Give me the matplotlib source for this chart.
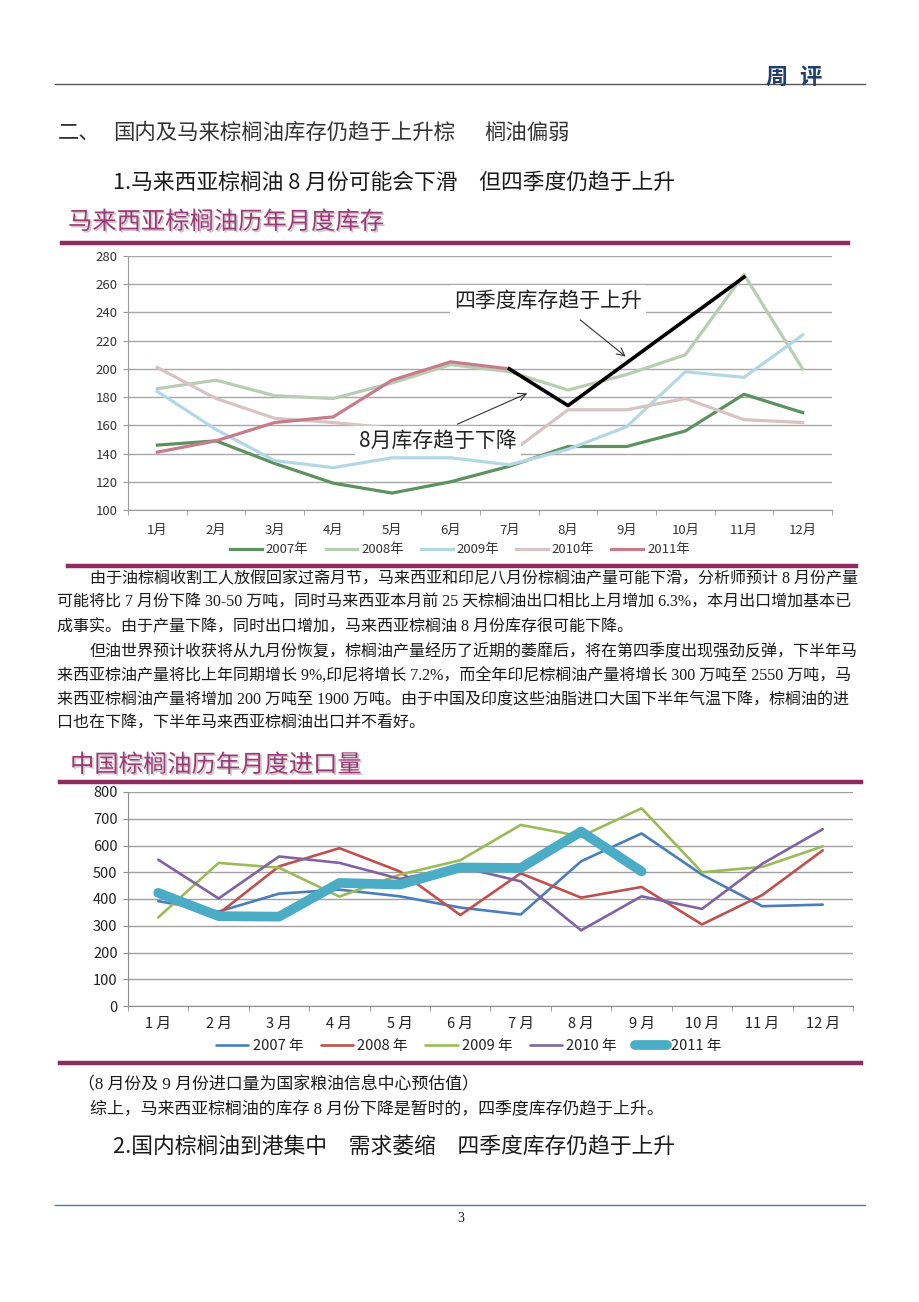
import matplotlib.pyplot as plt
import numpy as np
from matplotlib.lines import Line2D
import matplotlib.patheffects as pe

plt.rcParams['font.family'] = ['Noto Sans CJK SC', 'DejaVu Sans']

# page size in pixels
W, H = 920, 1302

def fx(x):
    return x / W

def fy(y):
    return 1 - y / H

# ---- chart 1: Malaysia palm oil stocks (10k t) ----
months1 = ['1月', '2月', '3月', '4月', '5月', '6月', '7月', '8月', '9月', '10月', '11月', '12月']
stock_2007 = [146, 149, 133, 119, 112, 120, 131, 145, 145, 156, 182, 169]
stock_2008 = [186, 192, 181, 179, 190, 203, 198, 185, 196, 210, 267, 200]
stock_2009 = [184, 157, 135, 130, 137, 137, 132, 143, 159, 198, 194, 224]
stock_2010 = [201, 179, 165, 162, 158, 150, 140, 171, 171, 179, 164, 162]
stock_2011 = [141, 149, 162, 166, 192, 205, 200]
stock_years = ['2007年', '2008年', '2009年', '2010年', '2011年']
trend_months = [6, 7, 10]      # 7月, 8月, 11月
trend_values = [200, 174, 265]

# ---- chart 2: China palm oil imports (kt) ----
months2 = ['1 月', '2 月', '3 月', '4 月', '5 月', '6 月', '7 月', '8 月', '9 月', '10 月', '11 月', '12 月']
imp_2007 = [392, 353, 420, 435, 410, 368, 342, 541, 645, 491, 373, 379]
imp_2008 = [415, 345, 522, 590, 503, 340, 496, 405, 445, 305, 415, 582]
imp_2009 = [331, 535, 517, 409, 491, 545, 677, 634, 739, 500, 520, 597]
imp_2010 = [547, 402, 559, 535, 475, 520, 466, 283, 410, 363, 532, 661]
imp_2011 = [423, 336, 334, 460, 454, 518, 516, 652, 503]
imp_years = ['2007 年', '2008 年', '2009 年', '2010 年', '2011 年']

fig = plt.figure(figsize=(9.2, 13.02), dpi=100)

def rule(x0, x1, y, color, lw):
    fig.add_artist(Line2D([fx(x0), fx(x1)], [fy(y), fy(y)], color=color, lw=lw))

serif = ['Liberation Serif', 'Noto Sans CJK SC']
txt = '#1a1a1a'
maroon = '#8e2c5e'
gap = '\u3000'

# header
rule(55, 865, 84, '#555555', 1.0)
fig.text(fx(777), fy(77), '周', ha='center', va='center', fontsize=16,
         fontweight='bold', color='#1f3e6e')
fig.text(fx(810), fy(77), '评', ha='center', va='center', fontsize=16,
         fontweight='bold', color='#1f3e6e')

fig.text(fx(58), fy(133), '二、', va='center', fontsize=15.4, color='#333333')
fig.text(fx(113), fy(133), '国内及马来棕榈油库存仍趋于上升棕', va='center', fontsize=15.4, color='#333333')
fig.text(fx(484), fy(133), '榈油偏弱', va='center', fontsize=15.4, color='#333333')
fig.text(fx(113), fy(183), '1.马来西亚棕榈油 8 月份可能会下滑' + gap + '但四季度仍趋于上升',
         va='center', fontsize=15.7, color=txt)

# chart 1 title and rules
shadow = [pe.withSimplePatchShadow(offset=(1.2, -1.2), shadow_rgbFace='#c9b6c0', alpha=0.8)]
fig.text(fx(68), fy(222), '马来西亚棕榈油历年月度库存', va='center', fontsize=17.5,
         color='#9a3a74', path_effects=shadow)
rule(62, 848, 243, maroon, 3.2)
rule(68, 856, 566, maroon, 3.2)

ax1 = fig.add_axes([fx(128), fy(510), (832 - 128) / W, (510 - 256) / H])
x1 = np.arange(12)
cols1 = ['#5e9160', '#b9cdb4', '#b3d8e4', '#d8c3c4', '#c77c8b']
series1 = [stock_2007, stock_2008, stock_2009, stock_2010, stock_2011]
for vals, c, lab in zip(series1, cols1, stock_years):
    ax1.plot(x1[:len(vals)], vals, color=c, lw=2.3, label=lab, zorder=3,
             solid_joinstyle='round')
ax1.plot(trend_months, trend_values, color='black', lw=2.6, zorder=6)

ax1.set_xlim(-0.5, 11.5)
ax1.set_ylim(100, 280)
ax1.set_yticks(range(100, 281, 20))
ax1.set_xticks(x1)
ax1.set_xticklabels(months1)
ax1.set_xticks(np.arange(-0.5, 12, 1), minor=True)
ax1.grid(axis='y', color='#a8a8a8', lw=1.0, zorder=1)
for s in ['top', 'right']:
    ax1.spines[s].set_visible(False)
for s in ['left', 'bottom']:
    ax1.spines[s].set_color('#9a9a9a')
ax1.tick_params(axis='x', which='major', length=0, pad=10, labelsize=9.5, labelcolor='#333333')
ax1.tick_params(axis='x', which='minor', length=3.5, direction='out', color='#9a9a9a')
ax1.tick_params(axis='y', length=3.5, color='#9a9a9a', pad=4, labelsize=9.5, labelcolor='#333333')

box = dict(facecolor='white', edgecolor='none', pad=3)
ax1.text(6.66, 248.5, '四季度库存趋于上升', ha='center', va='center', fontsize=15,
         color='#222222', bbox=box, zorder=5)
ax1.text(4.78, 148.8, '8月库存趋于下降', ha='center', va='center', fontsize=15,
         color='#222222', bbox=box, zorder=5)
arrow = dict(arrowstyle='->', lw=0.8, color='#333333', mutation_scale=14)
ax1.annotate('', xy=(8.02, 207.5), xytext=(7.17, 236), arrowprops=arrow, zorder=7)
ax1.annotate('', xy=(6.35, 183.5), xytext=(5.07, 160), arrowprops=arrow, zorder=7)

h1, l1 = ax1.get_legend_handles_labels()
fig.legend(h1, l1, loc='center', bbox_to_anchor=(fx(460), fy(550)), ncol=5, frameon=False,
           handlelength=2.4, handletextpad=0.3, columnspacing=1.3, fontsize=9.5,
           labelcolor='#333333')

# paragraphs
para = [
    (90, 579, '由于油棕榈收割工人放假回家过斋月节，马来西亚和印尼八月份棕榈油产量可能下滑，分析师预计 8 月份产量'),
    (57, 603, '可能将比 7 月份下降 30-50 万吨，同时马来西亚本月前 25 天棕榈油出口相比上月增加 6.3%，本月出口增加基本已'),
    (57, 627, '成事实。由于产量下降，同时出口增加，马来西亚棕榈油 8 月份库存很可能下降。'),
    (90, 651, '但油世界预计收获将从九月份恢复，棕榈油产量经历了近期的萎靡后，将在第四季度出现强劲反弹，下半年马'),
    (57, 675, '来西亚棕油产量将比上年同期增长 9%,印尼将增长 7.2%，而全年印尼棕榈油产量将增长 300 万吨至 2550 万吨，马'),
    (57, 700, '来西亚棕榈油产量将增加 200 万吨至 1900 万吨。由于中国及印度这些油脂进口大国下半年气温下降，棕榈油的进'),
    (57, 724, '口也在下降，下半年马来西亚棕榈油出口并不看好。'),
]
for x, y, s in para:
    fig.text(fx(x), fy(y), s, va='center', fontsize=11.55, color=txt, family=serif)

# chart 2 title and rules
fig.text(fx(70), fy(765), '中国棕榈油历年月度进口量', va='center', fontsize=17.5,
         color='#9a3a74', path_effects=shadow)
rule(60, 861, 782, maroon, 3.2)
rule(60, 861, 1063, maroon, 3.2)

ax2 = fig.add_axes([fx(128), fy(1006), (853 - 128) / W, (1006 - 792) / H])
x2 = np.arange(12)
cols2 = ['#4a7ebb', '#c0504d', '#9bbb59', '#8064a2', '#4bacc6']
series2 = [imp_2007, imp_2008, imp_2009, imp_2010, imp_2011]
widths2 = [1.9, 1.9, 1.9, 1.9, 7.0]
for vals, c, w, lab in zip(series2, cols2, widths2, imp_years):
    ax2.plot(x2[:len(vals)], vals, color=c, lw=w, label=lab, zorder=3,
             solid_capstyle='round', solid_joinstyle='round')

ax2.set_xlim(-0.5, 11.5)
ax2.set_ylim(0, 800)
ax2.set_yticks(range(0, 801, 100))
ax2.set_xticks(x2)
ax2.set_xticklabels(months2)
ax2.set_xticks(np.arange(-0.5, 12, 1), minor=True)
ax2.grid(axis='y', color='#a0a0a0', lw=1.0, zorder=1)
for s in ['top', 'right']:
    ax2.spines[s].set_visible(False)
for s in ['left', 'bottom']:
    ax2.spines[s].set_color('#8c8c8c')
ax2.tick_params(axis='x', which='major', length=0, pad=8, labelsize=10.5, labelcolor='#222222')
ax2.tick_params(axis='x', which='minor', length=3.5, direction='out', color='#8c8c8c')
ax2.tick_params(axis='y', length=3.5, color='#8c8c8c', pad=4, labelsize=10.5, labelcolor='#222222')

h2, l2 = ax2.get_legend_handles_labels()
fig.legend(h2, l2, loc='center', bbox_to_anchor=(fx(469), fy(1046)), ncol=5, frameon=False,
           handlelength=2.2, handletextpad=0.3, columnspacing=1.2, fontsize=10.5,
           labelcolor='#222222')

fig.text(fx(78), fy(1085), '（8 月份及 9 月份进口量为国家粮油信息中心预估值）', va='center',
         fontsize=12.2, color=txt, family=serif)
fig.text(fx(90), fy(1110), '综上，马来西亚棕榈油的库存 8 月份下降是暂时的，四季度库存仍趋于上升。', va='center',
         fontsize=12.2, color=txt, family=serif)
fig.text(fx(113), fy(1147), '2.国内棕榈油到港集中' + gap + '需求萎缩' + gap + '四季度库存仍趋于上升',
         va='center', fontsize=15.7, color=txt)

# footer
rule(55, 865, 1205, '#5b7a99', 1.0)
fig.text(fx(461), fy(1218), '3', ha='center', va='center', fontsize=10, family=serif, color=txt)

fig.savefig('out.png', dpi=100)
